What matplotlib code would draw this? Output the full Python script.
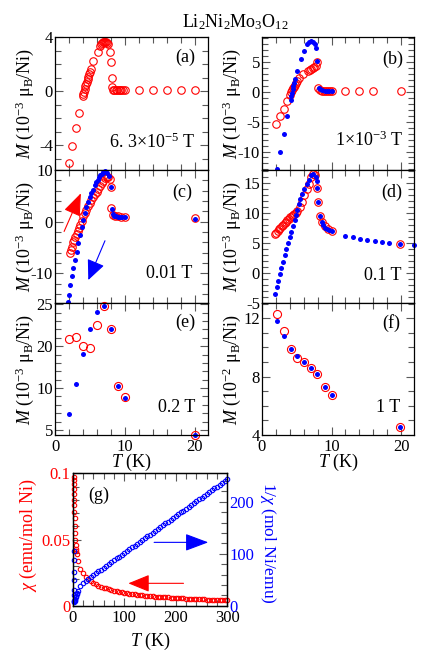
import matplotlib
matplotlib.use('Agg')
from matplotlib import pyplot as plt
from matplotlib.ticker import MultipleLocator

plt.rcParams['font.family'] = ['Liberation Serif', 'DejaVu Serif']
plt.rcParams['mathtext.fontset'] = 'custom'
plt.rcParams['mathtext.rm'] = 'Liberation Serif'
plt.rcParams['mathtext.it'] = 'Liberation Serif:italic'
plt.rcParams['axes.unicode_minus'] = False
plt.rcParams['font.size'] = 12

# (a) 6.3e-5 T
Ta = [2.0, 2.5, 3.0, 3.5, 3.95, 4.05, 4.15, 4.25, 4.35, 4.45, 4.55, 4.65, 4.75, 4.85, 4.95, 5.1,
      5.5, 6.1, 6.45, 6.6, 6.75, 6.9, 7.05, 7.2, 7.35, 7.5, 7.6, 7.9, 8.0, 8.1, 8.2, 8.35, 8.5,
      8.7, 8.9, 9.1, 9.3, 9.5, 9.7, 10.0, 12, 14, 16, 18, 20]
Ma = [-5.3, -4.05, -2.75, -1.6, -0.4, -0.25, -0.05, 0.15, 0.35, 0.55, 0.7, 0.9, 1.05, 1.25, 1.4, 1.6,
      2.2, 2.9, 3.3, 3.45, 3.55, 3.6, 3.6, 3.6, 3.6, 3.55, 3.45, 2.9, 2.15, 1.0, 0.3, 0.1, 0.08,
      0.06, 0.05, 0.05, 0.05, 0.05, 0.05, 0.05, 0.05, 0.05, 0.05, 0.05, 0.05]

# (b) 1e-3 T
Tb_fc = [2.1, 2.6, 3.1, 3.6, 4.1, 4.2, 4.3, 4.4, 4.5, 4.6, 4.7, 5.1, 5.6, 6.1, 6.5, 6.8, 7.1,
         7.4, 7.6, 7.75, 7.9, 8.15, 8.4, 8.7, 9.0, 9.3, 9.6, 10.0]
Mb_fc = [-13.0, -10.0, -7.0, -4.0, -1.3, -0.7, -0.2, 0.4, 1.0, 1.5, 2.1, 3.5, 5.5, 6.9, 8.0, 8.4, 8.5,
         8.4, 8.0, 7.3, 5.2, 0.7, 0.4, 0.3, 0.2, 0.2, 0.2, 0.2]
Tb_zfc = [2.0, 2.55, 3.1, 3.6, 4.0, 4.2, 4.35, 4.5, 4.65, 4.8, 4.95, 5.1, 5.3, 5.9, 6.6, 6.9, 7.1,
          7.3, 7.5, 7.7, 7.9, 8.0, 8.3, 8.6, 8.9, 9.2, 9.5, 9.8, 10.0, 12, 14, 16, 20]
Mb_zfc = [-5.4, -4.1, -2.8, -1.6, -0.45, 0.0, 0.3, 0.6, 0.9, 1.2, 1.5, 1.8, 2.4, 3.0, 3.5, 3.6, 3.8,
          4.0, 4.2, 4.4, 5.0, 0.6, 0.3, 0.2, 0.15, 0.15, 0.15, 0.15, 0.15, 0.1, 0.1, 0.1, 0.1]

# (c) 0.01 T
Tc_zfc = [2.15, 2.3, 2.45, 2.6, 2.75, 2.9, 3.1, 3.25, 3.4, 3.6, 3.8, 4.05, 4.3, 4.5, 4.75, 5.0,
          5.2, 5.45, 5.7, 5.95, 6.2, 6.45, 6.7, 6.9, 7.15, 7.4, 7.6, 7.8, 7.95, 8.05, 8.3, 8.6,
          9.0, 9.5, 10.0, 20.0]
Mc_zfc = [-6.1, -5.5, -4.9, -4.0, -3.5, -2.9, -2.3, -1.8, -1.3, -0.6, 0.1, 1.0, 1.7, 2.3, 3.1, 3.7,
          4.2, 4.7, 5.3, 5.8, 6.3, 6.9, 7.4, 7.9, 8.4, 8.6, 8.7, 8.3, 6.7, 2.6, 1.3, 1.1,
          1.0, 0.95, 0.9, 0.65]
Tc_fc = [1.8, 2.0, 2.15, 2.4, 2.6, 2.85, 3.1, 3.3, 3.55, 3.8, 4.05, 4.3, 4.5, 4.75, 5.0, 5.2, 5.4,
         5.7, 5.9, 6.1, 6.3, 6.5, 6.7, 6.9, 7.1, 7.3, 7.5, 7.7, 7.95, 8.2, 8.35, 8.5, 8.7, 9.0,
         9.3, 9.6, 10.0, 20.0]
Mc_fc = [-15.5, -14.2, -12.2, -10.6, -9.0, -7.4, -5.8, -4.2, -2.6, -1.0, 0.3, 1.6, 2.9, 3.9, 4.8, 5.5,
         6.1, 7.0, 7.6, 8.1, 8.6, 9.0, 9.3, 9.6, 9.8, 9.7, 9.4, 8.8, 6.7, 2.4, 1.5, 1.1, 1.0, 0.9,
         0.9, 0.85, 0.85, 0.6]

# (d) 0.1 T
Td_fc = [1.85, 2.1, 2.3, 2.56, 2.8, 3.0, 3.3, 3.5, 3.75, 4.0, 4.2, 4.5, 4.7, 4.85, 5.0, 5.3, 5.5,
         5.8, 6.1, 6.4, 6.7, 7.07, 7.4, 7.7, 7.9, 7.95, 8.1, 8.35, 8.6, 8.8, 9.1, 9.4, 9.7, 10.0,
         12.0, 13.1, 14.1, 15.1, 16.2, 17.2, 18.2, 19.9, 21.9]
Md_fc = [-3.45, -2.4, -1.3, -0.2, 0.85, 1.9, 2.95, 4.0, 4.95, 5.95, 6.9, 7.85, 8.8, 9.7, 10.6, 11.6,
         12.4, 13.2, 14.0, 14.8, 15.6, 16.3, 16.5, 16.1, 15.4, 14.2, 11.9, 9.6, 8.5, 7.95, 7.6, 7.35,
         7.2, 7.0, 6.2, 5.95, 5.7, 5.55, 5.4, 5.2, 5.05, 4.9, 4.6]
Td_zfc = [1.85, 2.05, 2.25, 2.45, 2.65, 2.85, 3.05, 3.25, 3.45, 3.65, 3.85, 4.05, 4.25, 4.45, 4.65,
          4.9, 5.1, 5.4, 5.8, 6.1, 6.45, 6.7, 7.0, 7.3, 7.6, 7.95, 8.1, 8.35, 8.6, 9.0, 9.5, 10.0, 19.9]
Md_zfc = [6.5, 6.7, 7.0, 7.3, 7.6, 7.85, 8.1, 8.35, 8.6, 8.85, 9.1, 9.3, 9.5, 9.65, 9.8,
          10.0, 10.3, 11.0, 11.9, 13.1, 14.1, 14.9, 16.0, 16.6, 16.4, 14.2, 11.9, 9.6, 8.5, 7.85, 7.35,
          7.0, 4.9]

# (e) 0.2 T  (axis positions 10/15/20/25 carry labels 5/10/20/25 as in the figure)
Te = [2, 3, 4, 5, 6, 7, 8, 9, 10, 20]
Me_fc = [11.9, 15.45, 19.1, 22.1, 24.1, 24.8, 22.0, 15.2, 13.8, 9.35]
Me_zfc = [20.8, 21.1, 20.0, 19.8, 22.5, 24.8, 22.0, 15.3, 13.9, 9.4]
e_ticks = [10, 15, 20, 25]
e_ticklabels = ['5', '10', '20', '25']

# (f) 1 T, 10^-2 muB/Ni
Tf = [2.1, 3.1, 4.1, 5.0, 6.0, 7.0, 7.9, 9.0, 10.0, 19.9]
Mf_fc = [11.8, 10.8, 9.87, 9.4, 9.0, 8.6, 8.15, 7.3, 6.75, 4.57]
Mf_zfc = [12.3, 11.1, 9.87, 9.3, 9.0, 8.6, 8.15, 7.3, 6.75, 4.57]

# (g) chi and 1/chi vs T
Tg_chi = [1.8, 2.0, 2.2, 2.4, 2.6, 2.8, 3.0, 3.3, 3.6, 4.0, 4.5, 5.0, 5.5, 6.0, 7.0, 8.0,
          10, 15, 20, 25, 30, 35, 40, 45, 50, 55, 60, 65, 70, 75, 80, 85, 90, 95, 100,
          105, 110, 115, 120, 125, 130, 135, 140, 145, 150, 155, 160, 165, 170, 175, 180,
          185, 190, 195, 200, 205, 210, 215, 220, 225, 230, 235, 240, 245, 250, 255, 260,
          265, 270, 275, 280, 285, 290, 295, 300]
chi = [0.097, 0.095, 0.092, 0.088, 0.084, 0.080, 0.076, 0.071, 0.066, 0.060, 0.055, 0.050, 0.046,
       0.043, 0.041, 0.039,
       0.034, 0.028, 0.0245, 0.022, 0.0200, 0.0185, 0.0172, 0.0162, 0.0152, 0.0143, 0.0136, 0.0130,
       0.0124, 0.0119, 0.0114, 0.0109, 0.0105, 0.0101, 0.0098, 0.0095, 0.0092, 0.0089, 0.0086,
       0.0084, 0.0081, 0.0079, 0.0077, 0.0075, 0.0073, 0.0071, 0.0069, 0.0067, 0.0066, 0.0064,
       0.0063, 0.0062, 0.0060, 0.0059, 0.0058, 0.0057, 0.0056, 0.0055, 0.0054, 0.0053, 0.0052,
       0.0051, 0.0050, 0.0049, 0.0048, 0.0047, 0.0046, 0.0046, 0.0045, 0.0044, 0.0044, 0.0043,
       0.0042, 0.0042, 0.0041]
Tg_inv = [1.9, 2.0, 2.0, 2.1, 2.2, 2.3, 2.0, 2.5, 3.0, 3.5, 4.0, 5.0, 6.0, 7.0, 8.0, 9.0,
          10, 15, 20, 25, 30, 35, 40, 45, 50, 55, 60, 65, 70, 75, 80, 85, 90, 95, 100,
          105, 110, 115, 120, 125, 130, 135, 140, 145, 150, 155, 160, 165, 170, 175, 180,
          185, 190, 195, 200, 205, 210, 215, 220, 225, 230, 235, 240, 245, 250, 255, 260,
          265, 270, 275, 280, 285, 290, 295, 300]
inv_chi = [106, 88, 65, 49, 30, 20, 8, 8.5, 9, 10, 11, 13, 16, 19, 22, 25,
           28, 37, 43, 47.5, 51.5, 55, 59.0, 62.6, 66.1, 69.7, 73.2, 76.8, 80.3, 83.9, 87.4, 91.0,
           94.5, 98.1, 101.6, 105.2, 108.7, 112.3, 115.8, 119.4, 122.9, 126.5, 130.0, 133.6, 137.1,
           140.7, 144.2, 147.8, 151.3, 154.9, 158.4, 162.0, 165.5, 169.1, 172.6, 176.2, 179.7,
           183.3, 186.8, 190.4, 193.9, 197.5, 201.0, 204.6, 208.1, 211.7, 215.2, 218.8, 222.3,
           225.9, 229.4, 233.0, 236.5, 240.1, 243.6]

RED = '#ff0000'
BLUE = '#0000ff'
W, H = 436, 668
fig = plt.figure(figsize=(W / 100, H / 100), dpi=100)


def box(x0, y0, x1, y1):
    # pixel edges measured from the top-left corner
    return [x0 / W, 1 - y1 / H, (x1 - x0) / W, (y1 - y0) / H]


def style_panel(ax, bottom_labels):
    ax.set_xlim(0, 21.86)
    ax.xaxis.set_major_locator(MultipleLocator(10))
    ax.xaxis.set_minor_locator(MultipleLocator(2))
    ax.tick_params(which='both', direction='in', top=True, right=True,
                   color='0.35', width=0.8, labelsize=12)
    ax.tick_params(which='major', length=6)
    ax.tick_params(which='minor', length=4)
    ax.tick_params(axis='y', pad=1.5)
    ax.tick_params(axis='x', pad=3)
    if not bottom_labels:
        ax.tick_params(labelbottom=False)
    else:
        ax.set_xlabel('$T$ (K)', fontsize=13)
        ax.xaxis.set_label_coords(0.5, -0.125)
    for s in ax.spines.values():
        s.set_linewidth(0.9)


def zfc(ax, T, M, ms=5.4):
    ax.plot(T, M, 'o', mfc='none', mec=RED, ms=ms, mew=0.8, clip_on=False)


def fc(ax, T, M):
    ax.plot(T, M, 'o', color=BLUE, ms=3.6, mew=0, clip_on=False)


cols = [(55, 208), (262, 414)]
rows = [(37, 170), (170, 303), (303, 435)]

axa = fig.add_axes(box(cols[0][0], rows[0][0], cols[0][1], rows[0][1]))
axb = fig.add_axes(box(cols[1][0], rows[0][0], cols[1][1], rows[0][1]))
axc = fig.add_axes(box(cols[0][0], rows[1][0], cols[0][1], rows[1][1]))
axd = fig.add_axes(box(cols[1][0], rows[1][0], cols[1][1], rows[1][1]))
axe = fig.add_axes(box(cols[0][0], rows[2][0], cols[0][1], rows[2][1]))
axf = fig.add_axes(box(cols[1][0], rows[2][0], cols[1][1], rows[2][1]))

# (a)
zfc(axa, Ta, Ma)
axa.set_ylim(-5.85, 4)
axa.yaxis.set_major_locator(MultipleLocator(4))
axa.yaxis.set_minor_locator(MultipleLocator(1))
style_panel(axa, False)
axa.text(0.915, 0.85, '(a)', transform=axa.transAxes, ha='right', va='center', fontsize=13)
axa.text(0.915, 0.21, '6. 3×10$^{-5}$ T', transform=axa.transAxes, ha='right', va='center', fontsize=13)

# (b)
zfc(axb, Tb_zfc, Mb_zfc)
fc(axb, Tb_fc, Mb_fc)
axb.set_ylim(-13.1, 9.2)
axb.yaxis.set_major_locator(MultipleLocator(5))
axb.yaxis.set_minor_locator(MultipleLocator(1))
style_panel(axb, False)
axb.text(0.93, 0.835, '(b)', transform=axb.transAxes, ha='right', va='center', fontsize=13)
axb.text(0.93, 0.225, '1×10$^{-3}$ T', transform=axb.transAxes, ha='right', va='center', fontsize=13)

# (c)
zfc(axc, Tc_zfc, Mc_zfc)
fc(axc, Tc_fc, Mc_fc)
axc.set_ylim(-15.75, 10)
axc.yaxis.set_major_locator(MultipleLocator(10))
axc.yaxis.set_minor_locator(MultipleLocator(2))
style_panel(axc, False)
axc.text(0.9, 0.83, '(c)', transform=axc.transAxes, ha='right', va='center', fontsize=13)
axc.text(0.9, 0.225, '0.01 T', transform=axc.transAxes, ha='right', va='center', fontsize=13)
axc.annotate('', xy=(3.7, 5.5), xytext=(1.3, -1.9),
             arrowprops=dict(arrowstyle='-|>,head_length=0.7,head_width=0.27',
                             color=RED, lw=0.8, mutation_scale=20, shrinkA=0, shrinkB=0))
axc.annotate('', xy=(4.76, -11.3), xytext=(7.14, -3.7),
             arrowprops=dict(arrowstyle='-|>,head_length=0.62,head_width=0.28',
                             color=BLUE, lw=0.8, mutation_scale=20, shrinkA=0, shrinkB=0))

# (d)
zfc(axd, Td_zfc, Md_zfc)
fc(axd, Td_fc, Md_fc)
axd.set_ylim(-5, 17.2)
axd.yaxis.set_major_locator(MultipleLocator(5))
axd.yaxis.set_minor_locator(MultipleLocator(1))
style_panel(axd, False)
axd.text(0.92, 0.835, '(d)', transform=axd.transAxes, ha='right', va='center', fontsize=13)
axd.text(0.92, 0.21, '0.1 T', transform=axd.transAxes, ha='right', va='center', fontsize=13)

# (e)
zfc(axe, Te, Me_zfc, ms=5.8)
fc(axe, Te, Me_fc)
axe.set_ylim(9.4, 25.15)
axe.set_yticks(e_ticks)
axe.set_yticklabels(e_ticklabels)
axe.yaxis.set_minor_locator(MultipleLocator(1))
style_panel(axe, True)
axe.text(0.915, 0.85, '(e)', transform=axe.transAxes, ha='right', va='center', fontsize=13)
axe.text(0.915, 0.21, '0.2 T', transform=axe.transAxes, ha='right', va='center', fontsize=13)

# (f)
zfc(axf, Tf, Mf_zfc, ms=5.8)
fc(axf, Tf, Mf_fc)
axf.set_ylim(4, 13.05)
axf.yaxis.set_major_locator(MultipleLocator(4))
axf.yaxis.set_minor_locator(MultipleLocator(1))
style_panel(axf, True)
axf.text(0.91, 0.85, '(f)', transform=axf.transAxes, ha='right', va='center', fontsize=13)
axf.text(0.91, 0.21, '1 T', transform=axf.transAxes, ha='right', va='center', fontsize=13)

# y labels of the M panels
lab3 = '$M$ (10$^{-3}$ μ$_{\\rm B}$/Ni)'
for x, (y0, y1) in [(25, rows[0]), (25, rows[1]), (25, rows[2]), (232, rows[0]), (232, rows[1])]:
    fig.text(x / W, 1 - (y0 + y1) / 2 / H, lab3, rotation=90, ha='center', va='center', fontsize=13)
fig.text(232 / W, 1 - sum(rows[2]) / 2 / H, '$M$ (10$^{-2}$ μ$_{\\rm B}$/Ni)',
         rotation=90, ha='center', va='center', fontsize=13)

fig.text(235 / W, 1 - 22 / H, 'Li$_2$Ni$_2$Mo$_3$O$_{12}$', ha='center', va='center', fontsize=13)

# (g)
axg = fig.add_axes(box(72.7, 473.3, 227.3, 605.7))
axg.plot(Tg_chi, chi, 'o', mfc='none', mec=RED, ms=3.2, mew=0.8, clip_on=False)
axg.set_xlim(0, 300)
axg.set_ylim(0, 0.1)
axg.set_yticks([0, 0.05, 0.1])
axg.set_yticklabels(['0', '0.05', '0.1'])
axg.yaxis.set_minor_locator(MultipleLocator(0.01))
axg.xaxis.set_major_locator(MultipleLocator(100))
axg.xaxis.set_minor_locator(MultipleLocator(20))
axg.tick_params(which='both', direction='in', top=True, right=False,
                color='0.35', width=0.8, labelsize=12)
axg.tick_params(which='major', length=6)
axg.tick_params(which='minor', length=4)
axg.tick_params(axis='y', labelcolor=RED, pad=1.5)
axg.tick_params(axis='x', pad=3)
axg.set_xlabel('$T$ (K)', fontsize=13)
axg.xaxis.set_label_coords(0.5, -0.19)
axg.text(0.1, 0.835, '(g)', transform=axg.transAxes, ha='left', va='center', fontsize=13)
axg.annotate('', xy=(108, 0.0169), xytext=(215, 0.0169),
             arrowprops=dict(arrowstyle='-|>,head_length=0.66,head_width=0.27',
                             color=RED, lw=0.8, mutation_scale=20, shrinkA=0, shrinkB=0))

axg2 = axg.twinx()
axg2.plot(Tg_inv, inv_chi, 'o', mfc='none', mec=BLUE, ms=3.2, mew=0.8, clip_on=False)
axg2.set_ylim(0, 255)
axg2.yaxis.set_major_locator(MultipleLocator(100))
axg2.yaxis.set_minor_locator(MultipleLocator(20))
axg2.tick_params(which='both', direction='in', color='0.35', width=0.8, labelsize=12,
                 labelcolor=BLUE, pad=1.5)
axg2.tick_params(which='major', length=6)
axg2.tick_params(which='minor', length=4)
axg2.annotate('', xy=(263, 122), xytext=(158, 122),
              arrowprops=dict(arrowstyle='-|>,head_length=0.72,head_width=0.27',
                              color=BLUE, lw=0.8, mutation_scale=20, shrinkA=0, shrinkB=0))
for ax in (axg, axg2):
    for s in ax.spines.values():
        s.set_linewidth(0.9)

fig.text(28 / W, 1 - 535 / H, '$\\chi$ (emu/mol Ni)', rotation=90, ha='center', va='center',
         fontsize=13, color=RED)
fig.text(268 / W, 1 - 543 / H, '1/$\\chi$ (mol Ni/emu)', rotation=270, ha='center', va='center',
         fontsize=12.5, color=BLUE)

fig.savefig('out.png', dpi=100)
